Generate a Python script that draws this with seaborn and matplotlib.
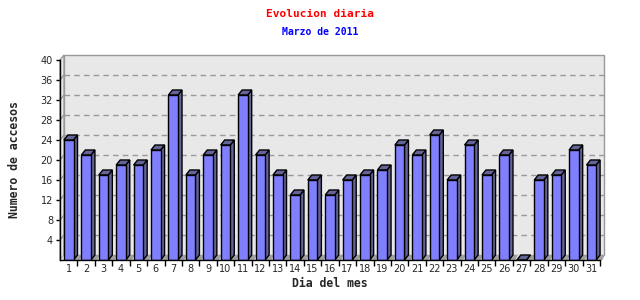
import matplotlib
matplotlib.use("Agg")
import matplotlib.pyplot as plt
import seaborn as sns
import pandas as pd
from matplotlib.patches import Polygon

days = [str(d) for d in range(1, 32)]
visits = [24, 21, 17, 19, 19, 22, 33, 17, 21, 23, 33, 21, 17, 13, 16, 13, 16, 17, 18, 23,
          21, 25, 16, 23, 17, 21, 0, 16, 17, 22, 19]
y_ticks = list(range(4, 41, 4))
title = "Evolucion diaria"
subtitle = "Marzo de 2011"
x_label = "Dia del mes"
y_label = "Numero de accesos"

df = pd.DataFrame({"day": days, "visits": visits})

sns.set_style("white")
plt.rcParams["font.family"] = ["DejaVu Sans"]

FRONT = "#8080ff"
DARK = "#646498"
WALL = "#e8e8e8"
GRIDC = "#999999"
SHADOW = "#a0a0a0"

fig = plt.figure(figsize=(6.4, 3.0), dpi=100)
ax = fig.add_axes([60 / 640, 40 / 300, 540 / 640, 200 / 300])
ax.set_facecolor("none")

sns.barplot(data=df, x="day", y="visits", color=FRONT, saturation=1, width=0.55,
            edgecolor="black", linewidth=1, ax=ax, zorder=5)

xmin, xmax = -0.5, len(days) - 0.5
ymax = 40
ax.set_xlim(xmin, xmax)
ax.set_ylim(0, ymax)

# depth offsets in data units (4 px right, 5 px up)
px_x = 540 / (xmax - xmin)
px_y = 200 / ymax
dx = 4 / px_x
dy = 5 / px_y

# back wall
ax.add_patch(Polygon([(xmin + dx, dy), (xmax + dx, dy), (xmax + dx, ymax + dy), (xmin + dx, ymax + dy)],
                     closed=True, facecolor=WALL, edgecolor=GRIDC, linewidth=1, clip_on=False, zorder=0))
# left wall
ax.add_patch(Polygon([(xmin, 0), (xmin + dx, dy), (xmin + dx, ymax + dy), (xmin, ymax)],
                     closed=True, facecolor=WALL, edgecolor=GRIDC, linewidth=1, clip_on=False, zorder=0))
# floor
ax.add_patch(Polygon([(xmin, 0), (xmax, 0), (xmax + dx, dy), (xmin + dx, dy)],
                     closed=True, facecolor=WALL, edgecolor="none", clip_on=False, zorder=0.5))
# grid lines on walls
for t in y_ticks[:-1]:
    ax.plot([xmin + dx, xmax + dx], [t + dy, t + dy], color=GRIDC, lw=1, ls=(0, (4, 3)),
            clip_on=False, zorder=1)
    ax.plot([xmin, xmin + dx], [t, t + dy], color=GRIDC, lw=1, clip_on=False, zorder=1)

# 3D faces of bars
for p in ax.patches[:]:
    if not hasattr(p, "get_x") or p.get_facecolor()[:3] != matplotlib.colors.to_rgb(FRONT):
        continue
    x0 = p.get_x()
    x1 = x0 + p.get_width()
    h = p.get_height()
    ax.add_patch(Polygon([(x0, 0), (x1 + dx * 1.6, 0), (x1 + dx * 2.2, dy), (x0 + dx, dy)], closed=True,
                         facecolor=SHADOW, edgecolor="none", clip_on=False, zorder=2))
    ax.add_patch(Polygon([(x1, 0), (x1 + dx, dy), (x1 + dx, h + dy), (x1, h)], closed=True,
                         facecolor=DARK, edgecolor="black", linewidth=1, clip_on=False, zorder=4))
    ax.add_patch(Polygon([(x0, h), (x1, h), (x1 + dx, h + dy), (x0 + dx, h + dy)], closed=True,
                         facecolor=DARK, edgecolor="black", linewidth=1, clip_on=False, zorder=4))

sns.despine(ax=ax, top=True, right=True)
for s in ("left", "bottom"):
    ax.spines[s].set_color("black")
    ax.spines[s].set_linewidth(1)
    ax.spines[s].set_zorder(6)

ax.set_yticks(y_ticks)
ax.set_yticklabels([str(t) for t in y_ticks], fontsize=7)
ax.tick_params(axis="y", length=3, width=1, color="black", pad=2, direction="out", left=True)
ax.set_xticks(range(len(days)))
ax.set_xticklabels(days, fontsize=7)
ax.set_xticks([i + 0.5 for i in range(len(days))], minor=True)
ax.tick_params(axis="x", which="major", length=0, pad=3)
ax.tick_params(axis="x", which="minor", length=4, width=1, color="black", bottom=True)

ax.set_xlabel(x_label, fontsize=8.3, fontweight="bold", family="DejaVu Sans Mono", labelpad=2)
ax.set_ylabel(y_label, fontsize=8.3, fontweight="bold", family="DejaVu Sans Mono", labelpad=14)

fig.text(0.5, 1 - 14 / 300, title, ha="center", va="center", color="red", fontsize=8,
         fontweight="bold", family="DejaVu Sans Mono")
fig.text(0.5, 1 - 32 / 300, subtitle, ha="center", va="center", color="blue", fontsize=7,
         fontweight="bold", family="DejaVu Sans Mono")

fig.savefig("out.png", dpi=100)
